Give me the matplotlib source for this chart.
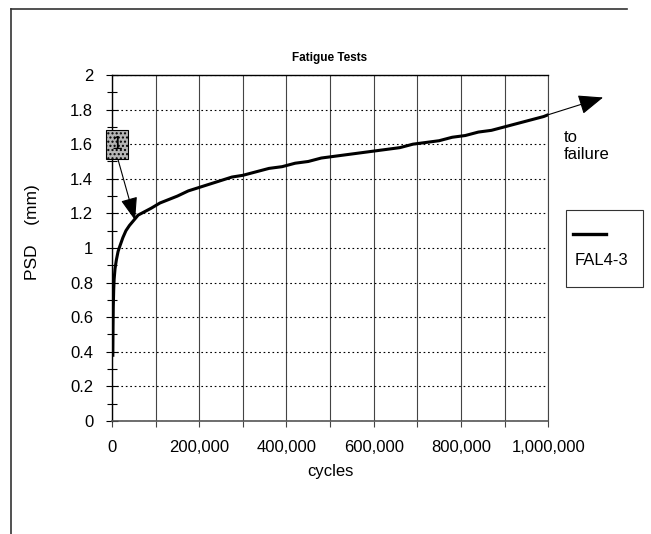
import numpy as np
import matplotlib.pyplot as plt
from matplotlib.ticker import MultipleLocator, FuncFormatter
from matplotlib.lines import Line2D
from matplotlib.patches import Rectangle

plt.rcParams['font.family'] = ['Liberation Sans', 'DejaVu Sans']

# data (cycles vs permanent strain deformation)
cycles = [2000, 2500, 3000, 4000, 5000, 7000, 10000, 14000, 18000, 25000,
          32000, 40000, 50000, 60000, 75000, 90000, 110000, 130000, 150000,
          175000, 200000, 225000, 250000, 275000, 300000, 330000, 360000,
          390000, 420000, 450000, 480000, 510000, 540000, 570000, 600000,
          630000, 660000, 690000, 720000, 750000, 780000, 810000, 840000,
          870000, 900000, 930000, 960000, 990000, 1000000]
psd = [0.38, 0.55, 0.66, 0.76, 0.82, 0.88, 0.93, 0.98, 1.01, 1.06,
       1.10, 1.13, 1.16, 1.19, 1.21, 1.23, 1.26, 1.28, 1.30,
       1.33, 1.35, 1.37, 1.39, 1.41, 1.42, 1.44, 1.46,
       1.47, 1.49, 1.50, 1.52, 1.53, 1.54, 1.55, 1.56,
       1.57, 1.58, 1.60, 1.61, 1.62, 1.64, 1.65, 1.67,
       1.68, 1.70, 1.72, 1.74, 1.76, 1.77]

series_name = 'FAL4-3'
failure_tip = (1126000, 1.87)
marker_box = (12000, 1.60)
marker_tip = (53000, 1.16)

fig = plt.figure(figsize=(6.51, 5.34), dpi=100)
ax = fig.add_axes([0.172, 0.2116, 0.670, 0.648])

ax.plot(cycles, psd, color='black', lw=2.2)

ax.set_xlim(0, 1000000)
ax.set_ylim(0, 2)

# grid: solid verticals, dotted horizontals
ax.xaxis.set_major_locator(MultipleLocator(100000))
ax.yaxis.set_major_locator(MultipleLocator(0.2))
ax.yaxis.set_minor_locator(MultipleLocator(0.1))
ax.grid(axis='x', color='#444444', lw=0.8, ls='-')
ax.grid(axis='y', color='black', lw=0.8, ls=(0, (1.5, 2.5)))
ax.set_axisbelow(True)

ax.xaxis.set_major_formatter(FuncFormatter(
    lambda v, p: '{:,.0f}'.format(v) if round(v / 100000) % 2 == 0 else ''))
ax.yaxis.set_major_formatter(FuncFormatter(lambda v, p: '{:g}'.format(round(v, 1))))

ax.tick_params(axis='x', direction='out', length=4, width=0.8, color='#444444',
               labelsize=12, pad=10)
ax.tick_params(axis='y', which='major', direction='inout', length=9, width=0.8,
               labelsize=12, pad=9)
ax.tick_params(axis='y', which='minor', direction='inout', length=7, width=0.8)

ax.spines['left'].set_color('black')
ax.spines['left'].set_linewidth(1.0)
ax.spines['bottom'].set_color('#555555')
ax.spines['bottom'].set_linewidth(1.2)
ax.spines['top'].set_color('black')
ax.spines['top'].set_linewidth(1.0)
ax.spines['right'].set_color('#444444')
ax.spines['right'].set_linewidth(0.8)

ax.set_title('Fatigue Tests', fontsize=8.5, fontweight='bold', pad=10)
ax.set_xlabel('cycles', fontsize=12)
ax.xaxis.set_label_coords(0.5, -0.125)
ax.set_ylabel('PSD    (mm)', fontsize=12.5)
ax.yaxis.set_label_coords(-0.165, 0.545)

# arrow to failure
ax.annotate('', xy=failure_tip, xytext=(cycles[-1], psd[-1]),
            arrowprops=dict(arrowstyle='-|>,head_length=0.55,head_width=0.22',
                            color='black', lw=0.8,
                            mutation_scale=28, shrinkA=0, shrinkB=0),
            annotation_clip=False)
ax.text(1035000, 1.59, 'to\nfailure', fontsize=12, ha='left', va='center',
        linespacing=1.2, clip_on=False)

# boxed marker "1" with arrow to the curve
ax.annotate('', xy=marker_tip, xytext=(marker_box[0] + 2000, marker_box[1] - 0.09),
            arrowprops=dict(arrowstyle='-|>,head_length=0.55,head_width=0.2',
                            color='black', lw=0.8,
                            mutation_scale=26, shrinkA=0, shrinkB=0),
            annotation_clip=False)
ax.text(marker_box[0], marker_box[1], '1', fontsize=14, ha='center', va='center',
        bbox=dict(boxstyle='square,pad=0.3', facecolor='#b5b5b5',
                  edgecolor='black', lw=0.8, hatch='....'), zorder=5)

# legend drawn as a box with the line sample above the name
fig.add_artist(Rectangle((0.869, 0.4625), 0.119, 0.1445, transform=fig.transFigure,
                         facecolor='white', edgecolor='#333333', lw=0.8))
fig.add_artist(Line2D([0.880, 0.931], [0.5618, 0.5618], transform=fig.transFigure,
                      color='black', lw=2.4))
fig.text(0.883, 0.513, series_name, fontsize=12, ha='left', va='center')

# outer frame (top and left edges visible)
fig.add_artist(Line2D([0.017, 0.963], [0.983, 0.983], transform=fig.transFigure,
                      color='#333333', lw=1.2))
fig.add_artist(Line2D([0.017, 0.017], [0.0, 0.983], transform=fig.transFigure,
                      color='#333333', lw=1.2))

fig.savefig('out.png', dpi=100)
